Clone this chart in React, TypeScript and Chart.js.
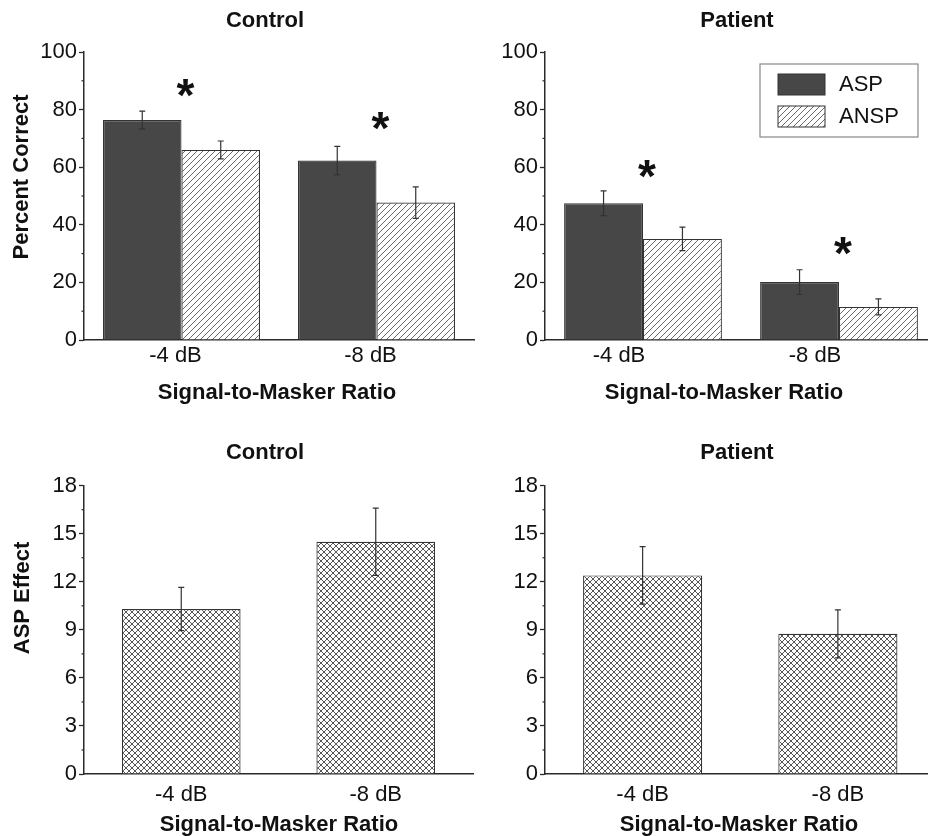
import React, { useEffect, useRef } from "react";
import { Chart, registerables } from "chart.js";

Chart.register(...registerables);

// ---------- data ----------
const categories = ["-4 dB", "-8 dB"];
const seriesNames = ["ASP", "ANSP"];

const controlASP = [76.4, 62.3];
const controlASPErr = [3.1, 4.9];
const controlANSP = [66.0, 47.7];
const controlANSPErr = [3.1, 5.5];
const controlStars = [87, 75.7];

const patientASP = [47.5, 20.1];
const patientASPErr = [4.3, 4.3];
const patientANSP = [35.1, 11.5];
const patientANSPErr = [4.1, 2.8];
const patientStars = [59, 32.3];

const controlEffect = [10.3, 14.5];
const controlEffectErr = [1.35, 2.1];
const patientEffect = [12.4, 8.75];
const patientEffectErr = [1.8, 1.5];

const percentMax = 100;
const percentStep = 20;
const effectMax = 18;
const effectStep = 3;

// ---------- styles ----------
const FONT = "'Liberation Sans', Arial, Helvetica, sans-serif";
const AXIS = "#2a2a2a";
const DARK = "#474747";

function hatchPattern(spacing: number, color: string, cross: boolean) {
  const c = document.createElement("canvas");
  c.width = spacing;
  c.height = spacing;
  const g = c.getContext("2d")!;
  g.fillStyle = "#ffffff";
  g.fillRect(0, 0, spacing, spacing);
  g.strokeStyle = color;
  g.lineWidth = 1;
  const seg = (x1: number, y1: number, x2: number, y2: number) => {
    g.beginPath();
    g.moveTo(x1, y1);
    g.lineTo(x2, y2);
    g.stroke();
  };
  seg(-1, spacing + 1, spacing + 1, -1);
  seg(-1 - spacing, spacing + 1, 1, -1);
  seg(spacing - 1, spacing + 1, 2 * spacing + 1, -1);
  if (cross) {
    seg(-1, -1, spacing + 1, spacing + 1);
    seg(-1 - spacing, -1, 1, spacing + 1);
    seg(spacing - 1, -1, 2 * spacing + 1, spacing + 1);
  }
  return g.createPattern(c, "repeat")!;
}

type Panel = {
  left: number;
  top: number;
  width: number;
  height: number;
  padding: { top: number; bottom: number; left: number; right: number };
  yWidth: number;
  yMax: number;
  yStep: number;
  labelOffset: number;
  tickPad: number;
  catPct: number;
  series: { label: string; data: number[]; err: number[]; kind: "dark" | "hatch" | "cross" }[];
  stars?: number[];
  title: string;
  titlePos: [number, number];
  yTitle?: string;
  yTitlePos?: [number, number];
  xTitle: string;
  xTitlePos: [number, number];
  legend?: boolean;
};

const panels: Panel[] = [
  {
    left: 0, top: 0, width: 480, height: 420,
    padding: { top: 52, bottom: 20, left: 0, right: 6 },
    yWidth: 84, yMax: percentMax, yStep: percentStep, labelOffset: -6, tickPad: 3, catPct: 0.805,
    series: [
      { label: seriesNames[0], data: controlASP, err: controlASPErr, kind: "dark" },
      { label: seriesNames[1], data: controlANSP, err: controlANSPErr, kind: "hatch" },
    ],
    stars: controlStars,
    title: "Control", titlePos: [265, 21],
    yTitle: "Percent Correct", yTitlePos: [22, 177],
    xTitle: "Signal-to-Masker Ratio", xTitlePos: [277, 393],
  },
  {
    left: 464, top: 0, width: 480, height: 420,
    padding: { top: 52, bottom: 20, left: 0, right: 7 },
    yWidth: 81, yMax: percentMax, yStep: percentStep, labelOffset: -24, tickPad: 3, catPct: 0.805,
    series: [
      { label: seriesNames[0], data: patientASP, err: patientASPErr, kind: "dark" },
      { label: seriesNames[1], data: patientANSP, err: patientANSPErr, kind: "hatch" },
    ],
    stars: patientStars,
    title: "Patient", titlePos: [737, 21],
    xTitle: "Signal-to-Masker Ratio", xTitlePos: [724, 393],
    legend: true,
  },
  {
    left: 0, top: 420, width: 480, height: 416,
    padding: { top: 65.7, bottom: 2, left: 0, right: 7 },
    yWidth: 84, yMax: effectMax, yStep: effectStep, labelOffset: 0, tickPad: 8, catPct: 0.61,
    series: [{ label: "ASP Effect", data: controlEffect, err: controlEffectErr, kind: "cross" }],
    title: "Control", titlePos: [265, 453],
    yTitle: "ASP Effect", yTitlePos: [23, 598],
    xTitle: "Signal-to-Masker Ratio", xTitlePos: [279, 825],
  },
  {
    left: 464, top: 420, width: 480, height: 416,
    padding: { top: 65.7, bottom: 2, left: 0, right: 8.5 },
    yWidth: 81, yMax: effectMax, yStep: effectStep, labelOffset: 0, tickPad: 8, catPct: 0.61,
    series: [{ label: "ASP Effect", data: patientEffect, err: patientEffectErr, kind: "cross" }],
    title: "Patient", titlePos: [737, 453],
    xTitle: "Signal-to-Masker Ratio", xTitlePos: [739, 825],
  },
];

function PanelChart({ p }: { p: Panel }) {
  const ref = useRef<HTMLCanvasElement>(null);
  useEffect(() => {
    const canvas = ref.current!;
    const hatch = hatchPattern(6, "#6a6a6a", false);
    const cross = hatchPattern(6, "#555555", true);
    const fillFor = (k: string) => (k === "dark" ? DARK : k === "hatch" ? hatch : cross);

    const decor = {
      id: "decor",
      afterDatasetsDraw(chart: any) {
        const ctx = chart.ctx as CanvasRenderingContext2D;
        const ys = chart.scales.y;
        const area = chart.chartArea;
        ctx.save();
        // minor ticks
        ctx.strokeStyle = AXIS;
        ctx.lineWidth = 1.2;
        for (let v = p.yStep / 2; v < p.yMax; v += p.yStep) {
          const y = ys.getPixelForValue(v);
          ctx.beginPath();
          ctx.moveTo(area.left - 2.5, y);
          ctx.lineTo(area.left, y);
          ctx.stroke();
        }
        // error bars
        ctx.strokeStyle = "#333";
        ctx.lineWidth = 1.2;
        p.series.forEach((s, i) => {
          const meta = chart.getDatasetMeta(i);
          meta.data.forEach((el: any, j: number) => {
            const x = el.x;
            const yt = ys.getPixelForValue(s.data[j] + s.err[j]);
            const yb = ys.getPixelForValue(s.data[j] - s.err[j]);
            ctx.beginPath();
            ctx.moveTo(x, yt);
            ctx.lineTo(x, yb);
            ctx.moveTo(x - 3, yt);
            ctx.lineTo(x + 3, yt);
            ctx.moveTo(x - 3, yb);
            ctx.lineTo(x + 3, yb);
            ctx.stroke();
          });
        });
        // significance stars
        if (p.stars) {
          const xs = chart.scales.x;
          ctx.fillStyle = "#111";
          ctx.font = `bold 46px ${FONT}`;
          ctx.textAlign = "center";
          ctx.textBaseline = "alphabetic";
          p.stars.forEach((v, j) => {
            const x = xs.getPixelForValue(j) + 4;
            const y = ys.getPixelForValue(v);
            ctx.fillText("*", x, y + 22);
          });
        }
        // texts
        ctx.fillStyle = "#111";
        ctx.textBaseline = "middle";
        ctx.textAlign = "center";
        ctx.font = `bold 22px ${FONT}`;
        ctx.fillText(p.title, p.titlePos[0] - p.left, p.titlePos[1] - p.top);
        ctx.fillText(p.xTitle, p.xTitlePos[0] - p.left, p.xTitlePos[1] - p.top);
        if (p.yTitle && p.yTitlePos) {
          ctx.save();
          ctx.translate(p.yTitlePos[0] - p.left, p.yTitlePos[1] - p.top);
          ctx.rotate(-Math.PI / 2);
          ctx.fillText(p.yTitle, 0, 0);
          ctx.restore();
        }
        // legend
        if (p.legend) {
          const L = 760 - p.left, T = 64 - p.top, W = 158, H = 73;
          ctx.fillStyle = "#fff";
          ctx.fillRect(L, T, W, H);
          ctx.strokeStyle = "#888";
          ctx.lineWidth = 1.2;
          ctx.strokeRect(L, T, W, H);
          p.series.forEach((s, i) => {
            const sy = T + 10 + i * 32;
            ctx.fillStyle = fillFor(s.kind) as any;
            ctx.fillRect(L + 18, sy, 47, 21);
            ctx.strokeStyle = "#333";
            ctx.lineWidth = 1;
            ctx.strokeRect(L + 18, sy, 47, 21);
            ctx.fillStyle = "#111";
            ctx.font = `22px ${FONT}`;
            ctx.textAlign = "left";
            ctx.textBaseline = "middle";
            ctx.fillText(s.label, L + 79, sy + 11);
          });
        }
        ctx.restore();
      },
    };

    const chart = new Chart(canvas, {
      type: "bar",
      data: {
        labels: categories,
        datasets: p.series.map((s) => ({
          label: s.label,
          data: s.data,
          backgroundColor: fillFor(s.kind) as any,
          borderColor: "#333",
          borderWidth: 1.2,
          categoryPercentage: p.catPct,
          barPercentage: 1,
        })),
      },
      options: {
        responsive: false,
        animation: false,
        devicePixelRatio: 1,
        layout: { padding: p.padding },
        plugins: { legend: { display: false }, tooltip: { enabled: false }, title: { display: false } },
        scales: {
          x: {
            type: "category",
            offset: true,
            grid: { display: false, drawTicks: false },
            border: { display: true, color: AXIS, width: 1.5 },
            ticks: { font: { family: FONT, size: 22 }, color: "#111", padding: p.tickPad, labelOffset: p.labelOffset, maxRotation: 0 },
            afterFit: (s: any) => { s.height = 60; },
          },
          y: {
            min: 0,
            max: p.yMax,
            grid: { display: true, drawOnChartArea: false, drawTicks: true, tickLength: 5, tickColor: AXIS, tickWidth: 1.3 },
            border: { display: true, color: AXIS, width: 1.5 },
            ticks: { stepSize: p.yStep, font: { family: FONT, size: 22 }, color: "#111", padding: 2 },
            afterFit: (s: any) => { s.width = p.yWidth; },
          },
        },
      },
      plugins: [decor],
    });
    return () => chart.destroy();
  }, [p]);
  return (
    <canvas
      ref={ref}
      width={p.width}
      height={p.height}
      style={{ position: "absolute", left: p.left, top: p.top, width: p.width, height: p.height }}
    />
  );
}

export default function App() {
  return (
    <div
      style={{
        position: "absolute",
        left: 0,
        top: 0,
        width: 928,
        height: 836,
        overflow: "hidden",
        background: "#fff",
      }}
    >
      {panels.map((p, i) => (
        <PanelChart key={i} p={p} />
      ))}
    </div>
  );
}
